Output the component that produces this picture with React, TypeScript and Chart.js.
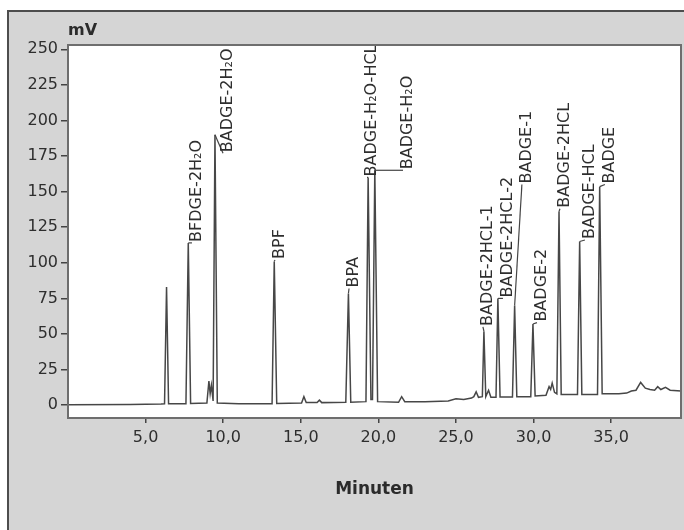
import React, { useEffect, useRef } from 'react';
import { Chart, registerables } from 'chart.js';

Chart.register(...registerables);

// Chromatogram signal (retention time in minutes, detector signal in mV)
const signalTimes = [
  0, 4, 6.0,
  6.22, 6.35, 6.48,
  7.6, 7.75, 7.9,
  8.95, 9.08, 9.16, 9.24, 9.35, 9.47, 9.62,
  11, 13.15, 13.29, 13.45,
  15.05, 15.2, 15.35, 16.05, 16.2, 16.35,
  17.9, 18.07, 18.22,
  19.2, 19.34, 19.52, 19.62, 19.77, 19.95,
  21.3, 21.5, 21.7,
  23, 24.5, 25.0, 25.5, 26.0, 26.15, 26.3, 26.45,
  26.7, 26.8, 26.92, 27.1, 27.25,
  27.58, 27.7, 27.84,
  28.64, 28.78, 28.92,
  29.82, 29.96, 30.1,
  30.8, 31.0, 31.1, 31.2, 31.35, 31.5, 31.64, 31.78,
  32.83, 32.97, 33.11,
  34.12, 34.26, 34.42,
  35.5, 36.0, 36.3, 36.6, 36.9, 37.2, 37.5, 37.8, 38.0, 38.2, 38.5, 38.8, 39.5,
];
const signalValues = [
  0.3, 0.5, 0.8,
  1, 83, 1,
  1, 114, 1.2,
  1.5, 17, 8, 14, 3, 190, 1.5,
  1, 1, 101, 1.2,
  1.5, 6, 1.8, 1.8, 3.5, 1.8,
  2, 78.5, 2,
  2.5, 160, 4, 4, 165, 2.5,
  2, 6, 2.5,
  2.5, 3, 4.5, 4, 5, 6, 9.4, 5.5,
  6, 52, 6, 10.5, 5.5,
  5.5, 75, 5.8,
  5.8, 70, 6,
  6, 57, 6.5,
  7, 13, 11, 15.5, 9, 8, 136, 7.5,
  7.5, 115, 7.5,
  7.5, 153.5, 8,
  8, 8.5, 10, 10.5, 16, 12, 11, 10.5, 13, 11, 12.5, 10.5, 10,
];

const xTicks = [5, 10, 15, 20, 25, 30, 35];
const yTicks = [0, 25, 50, 75, 100, 125, 150, 175, 200, 225, 250];

// Peak annotations
const peakNames = [
  'BFDGE-2H\u2082O', 'BADGE-2H\u2082O', 'BPF', 'BPA', 'BADGE-H\u2082O-HCL', 'BADGE-H\u2082O',
  'BADGE-2HCL-1', 'BADGE-2HCL-2', 'BADGE-1', 'BADGE-2', 'BADGE-2HCL', 'BADGE-HCL', 'BADGE',
];
const peakTimes = [7.75, 9.47, 13.29, 18.07, 19.34, 19.77, 26.8, 27.7, 28.78, 29.96, 31.64, 32.97, 34.26];
const peakHeights = [114, 190, 101, 78.5, 160, 165, 52, 75, 70, 57, 136, 115, 153.5];
const labelTimes = [8.31, 10.31, 13.66, 18.43, 19.59, 21.91, 27.06, 28.35, 29.57, 30.54, 32.02, 33.63, 34.92];
const labelValues = [114, 177, 102, 82, 160, 165, 55, 75, 155, 58, 138, 116, 155];

const FONT = '"DejaVu Sans", sans-serif';

export default function App() {
  const ref = useRef<HTMLCanvasElement>(null);

  useEffect(() => {
    const canvas = ref.current;
    if (!canvas) return;

    const framePlugin = {
      id: 'frame',
      beforeDraw(chart: any) {
        const c = chart.ctx;
        const { width, height } = chart;
        const a = chart.chartArea;
        c.save();
        c.fillStyle = '#ffffff';
        c.fillRect(0, 0, width, height);
        c.fillStyle = '#d5d5d5';
        c.fillRect(7, 10, width, height);
        c.strokeStyle = '#4d4d4d';
        c.lineWidth = 2;
        c.strokeRect(8, 11, width + 10, height + 10);
        c.fillStyle = '#ffffff';
        c.fillRect(a.left, a.top, a.right - a.left, a.bottom - a.top);
        c.restore();
      },
      afterDraw(chart: any) {
        const c = chart.ctx;
        const a = chart.chartArea;
        c.save();
        c.strokeStyle = '#6e6e6e';
        c.lineWidth = 2;
        c.strokeRect(a.left, a.top, a.right - a.left, a.bottom - a.top);
        c.fillStyle = '#2b2b2b';
        c.font = `bold 16px ${FONT}`;
        c.textAlign = 'left';
        c.textBaseline = 'alphabetic';
        c.fillText('mV', a.left, 35);
        c.restore();
      },
    };

    const labelPlugin = {
      id: 'peakLabels',
      afterDatasetsDraw(chart: any) {
        const c = chart.ctx;
        const xs = chart.scales.x;
        const ys = chart.scales.y;
        c.save();
        c.font = `16px ${FONT}`;
        c.fillStyle = '#2e2e2e';
        c.strokeStyle = '#444444';
        c.lineWidth = 1.2;
        peakNames.forEach((name, i) => {
          const px = xs.getPixelForValue(peakTimes[i]);
          const py = ys.getPixelForValue(peakHeights[i]);
          const lx = xs.getPixelForValue(labelTimes[i]);
          const ly = ys.getPixelForValue(labelValues[i]);
          c.beginPath();
          c.moveTo(px, py);
          c.lineTo(lx - 5, ly);
          c.stroke();
          c.save();
          c.translate(lx, ly - 1);
          c.rotate(-Math.PI / 2);
          c.textAlign = 'left';
          c.textBaseline = 'middle';
          c.fillText(name, 0, 0);
          c.restore();
        });
        c.restore();
      },
    };

    const chart = new Chart(canvas, {
      type: 'line',
      data: {
        datasets: [
          {
            label: 'Signal',
            data: signalTimes.map((t, i) => ({ x: t, y: signalValues[i] })),
            borderColor: '#474747',
            borderWidth: 1.5,
            pointRadius: 0,
            tension: 0,
            fill: false,
          },
        ],
      },
      options: {
        animation: false,
        responsive: false,
        layout: { padding: { top: 45, right: 3, left: 0, bottom: 0 } },
        plugins: {
          legend: { display: false },
          tooltip: { enabled: false },
        },
        scales: {
          x: {
            type: 'linear',
            min: 0,
            max: 39.5,
            afterFit: (s: any) => {
              s.height = 112;
            },
            afterBuildTicks: (s: any) => {
              s.ticks = xTicks.map((v) => ({ value: v }));
            },
            grid: { drawOnChartArea: false, tickLength: 5, color: '#444', lineWidth: 1.5 },
            border: { display: true, color: '#555', width: 2 },
            ticks: {
              padding: 5,
              color: '#2e2e2e',
              font: { family: FONT, size: 16 },
              maxRotation: 0,
              callback: (v: any) => Number(v).toFixed(1).replace('.', ','),
            },
            title: {
              display: true,
              text: 'Minuten',
              color: '#2b2b2b',
              font: { family: FONT, size: 17, weight: 'bold' },
              padding: { top: 0, bottom: 30 },
            },
          },
          y: {
            type: 'linear',
            min: -9,
            max: 253,
            afterFit: (s: any) => {
              s.width = 68;
            },
            afterBuildTicks: (s: any) => {
              s.ticks = yTicks.map((v) => ({ value: v }));
            },
            grid: { drawOnChartArea: false, tickLength: 7, color: '#444', lineWidth: 1.5 },
            border: { display: true, color: '#555', width: 2 },
            ticks: {
              padding: 3,
              color: '#2e2e2e',
              font: { family: FONT, size: 16 },
            },
          },
        },
      },
      plugins: [framePlugin, labelPlugin],
    });

    return () => chart.destroy();
  }, []);

  return (
    <div style={{ position: 'fixed', left: 0, top: 0, width: 684, height: 530 }}>
      <canvas ref={ref} width={684} height={530} style={{ display: 'block' }} />
    </div>
  );
}
